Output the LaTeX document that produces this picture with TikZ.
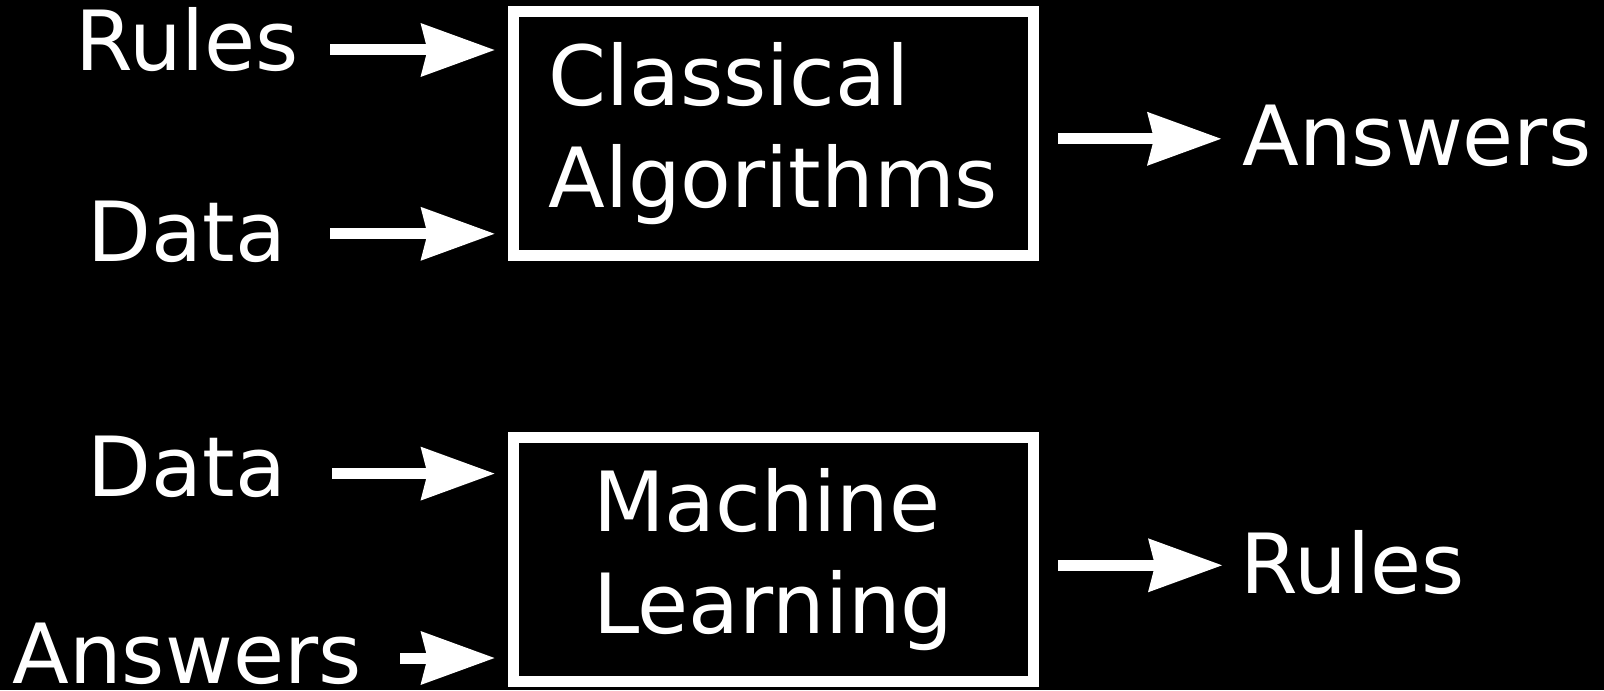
\documentclass[tikz,border=0pt]{standalone}
\usepackage{fontspec}
\setmainfont{DejaVu Sans}
\usetikzlibrary{arrows.meta}

\tikzset{
  px/.style={x=0.5pt,y=-0.5pt},
  label/.style={text=white,font=\fontsize{41.5pt}{51pt}\selectfont,inner sep=0pt,anchor=base},
  outlabel/.style={label,anchor=base west},
  algbox/.style={draw=white,line width=5.5pt,minimum width=260.25pt,minimum height=122pt,
    inner sep=0pt,text=white,align=left,font=\fontsize{41.5pt}{51pt}\selectfont},
  flow/.style={white,line width=5.5pt,
    -{Stealth[length=37pt,width=27pt,inset=3.5pt,line width=0pt]}}
}

\begin{document}
\begin{tikzpicture}[px]
  % canvas
  \fill[black] (0,0) rectangle (1604,690);
  \useasboundingbox (0,0) rectangle (1604,690);

  % processing boxes
  \node[algbox] (ca) at (773.25,133.5) {Classical\\Algorithms};
  \node[algbox] (ml) at (773.25,559.5) {Machine\\Learning};

  % inputs on the left
  \node[label] (rulesin) at (187,70.7) {Rules};
  \node[label] (datain1) at (187,261) {Data};
  \node[label] (datain2) at (187,496) {Data};
  \node[label] (answersin) at (187,683) {Answers};

  % outputs on the right
  \node[outlabel] (answersout) at (1242,165) {Answers};
  \node[outlabel] (rulesout) at (1240,593) {Rules};

  % arrow start and end points
  \coordinate (s1) at (330,50);
  \coordinate (s2) at (330,233.8);
  \coordinate (s3) at (332,473.6);
  \coordinate (s4) at (400,658);
  \coordinate (e1) at (1221,138.8);
  \coordinate (e2) at (1222,565.3);

  % connectors
  \draw[flow,shorten >=6.5pt] (s1) -- (s1 -| ca.west);
  \draw[flow,shorten >=6.5pt] (s2) -- (s2 -| ca.west);
  \draw[flow,shorten >=6.5pt] (s3) -- (s3 -| ml.west);
  \draw[flow,shorten >=6.5pt] (s4) -- (s4 -| ml.west);
  \draw[flow,shorten <=9.5pt] (e1 -| ca.east) -- (e1);
  \draw[flow,shorten <=9.5pt] (e2 -| ml.east) -- (e2);
\end{tikzpicture}
\end{document}
